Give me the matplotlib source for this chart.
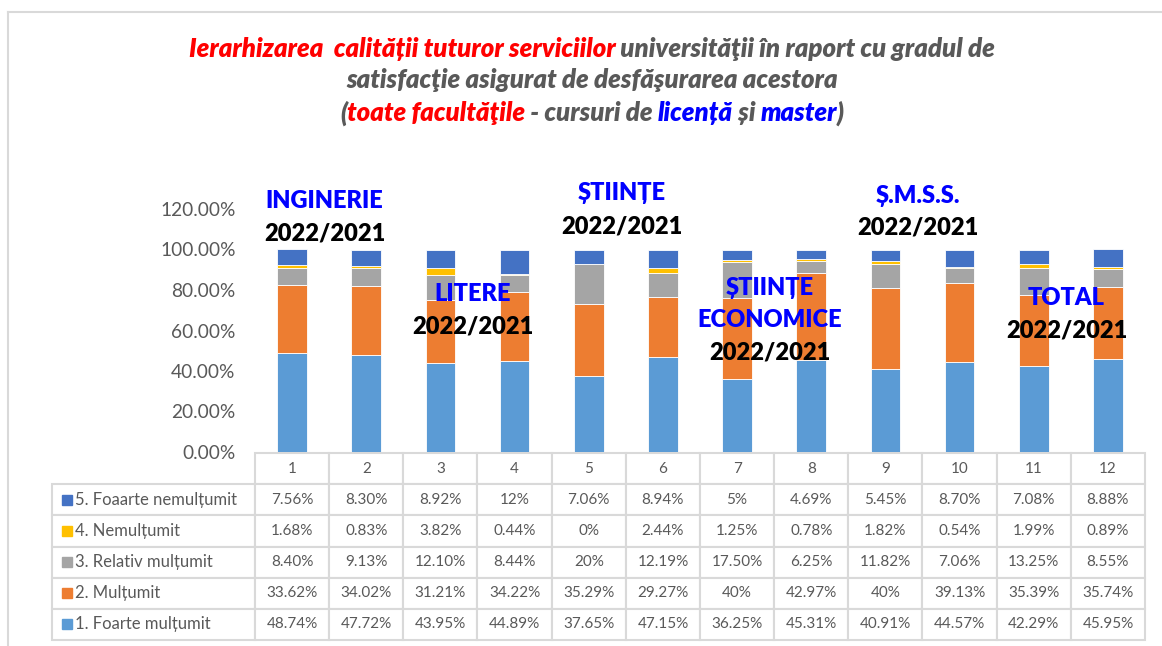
import matplotlib
matplotlib.use('Agg')
import matplotlib.pyplot as plt
from matplotlib.patches import Rectangle
from matplotlib.lines import Line2D

plt.rcParams['font.family'] = ['Lato', 'DejaVu Sans']

# data (percent)
groups = [str(i) for i in range(1, 13)]
foarte_nemultumit = [7.56, 8.30, 8.92, 12, 7.06, 8.94, 5, 4.69, 5.45, 8.70, 7.08, 8.88]
nemultumit = [1.68, 0.83, 3.82, 0.44, 0, 2.44, 1.25, 0.78, 1.82, 0.54, 1.99, 0.89]
relativ_multumit = [8.40, 9.13, 12.10, 8.44, 20, 12.19, 17.50, 6.25, 11.82, 7.06, 13.25, 8.55]
multumit = [33.62, 34.02, 31.21, 34.22, 35.29, 29.27, 40, 42.97, 40, 39.13, 35.39, 35.74]
foarte_multumit = [48.74, 47.72, 43.95, 44.89, 37.65, 47.15, 36.25, 45.31, 40.91, 44.57, 42.29, 45.95]

series_labels = ['5. Foaarte nemulțumit', '4. Nemulțumit', '3. Relativ mulțumit',
                 '2. Mulțumit', '1. Foarte mulțumit']
series_values = [foarte_nemultumit, nemultumit, relativ_multumit, multumit, foarte_multumit]
series_colors = ['#4472C4', '#FFC000', '#A5A5A5', '#ED7D31', '#5B9BD5']

# faculty labels: (x between bars, [(text, colour, y)])
faculty_labels = [
    (0.5, [('INGINERIE', 'blue', 1.241), ('2022/2021', 'black', 1.079)]),
    (2.5, [('LITERE', 'blue', 0.778), ('2022/2021', 'black', 0.621)]),
    (4.5, [('ȘTIINȚE', 'blue', 1.281), ('2022/2021', 'black', 1.113)]),
    (6.5, [('ȘTIINȚE', 'blue', 0.808), ('ECONOMICE', 'blue', 0.650), ('2022/2021', 'black', 0.493)]),
    (8.5, [('Ș.M.S.S.', 'blue', 1.266), ('2022/2021', 'black', 1.108)]),
    (10.5, [('TOTAL', 'blue', 0.759), ('2022/2021', 'black', 0.601)]),
]

GRAY = '#595959'
RED = '#FF0000'
BLUE = '#0000FF'

W, H = 1162, 646
fig = plt.figure(figsize=(W / 100, H / 100), dpi=100)
ax = fig.add_axes([255 / W, (H - 452) / H, 890 / W, 243 / H])

x = list(range(len(groups)))
bottom = [0] * len(groups)
for vals, color in zip(reversed(series_values), reversed(series_colors)):
    frac = [v / 100 for v in vals]
    ax.bar(x, frac, 0.4, bottom=bottom, color=color, edgecolor='white', linewidth=0.6)
    bottom = [b + f for b, f in zip(bottom, frac)]

ax.set_xlim(-0.5, len(groups) - 0.5)
ax.set_ylim(0, 1.2)
ax.set_yticks([0, 0.2, 0.4, 0.6, 0.8, 1.0, 1.2])
ax.set_yticklabels(['{:.2f}%'.format(t * 100) for t in ax.get_yticks()])
ax.tick_params(axis='y', length=0, pad=14, labelsize=13.8, labelcolor=GRAY)
ax.set_xticks([])
for s in ax.spines.values():
    s.set_visible(False)

for xc, lines in faculty_labels:
    for txt, col, yv in lines:
        ax.text(xc - 0.06, yv, txt, color=col, fontsize=17, fontweight='heavy',
                ha='center', va='center', clip_on=False)


# table
def fmt(v):
    return '{:d}%'.format(int(v)) if float(v).is_integer() else '{:.2f}%'.format(v)


cell_text = [[lab] + [fmt(v) for v in vals] for lab, vals in zip(series_labels, series_values)]
col_labels = [''] + groups
bx0 = (52 - 255) / 890
bw = (1145 - 52) / 890
btop = -1 / 243
bbot = -(640 - 452) / 243
tbl = ax.table(cellText=cell_text, colLabels=col_labels, cellLoc='center',
               colWidths=[203] + [74.17] * len(groups),
               bbox=[bx0, bbot, bw, btop - bbot])
tbl.auto_set_font_size(False)
tbl.set_fontsize(11)
for (r, c), cell in tbl.get_celld().items():
    cell.set_edgecolor('#D9D9D9')
    cell.set_linewidth(1.5)
    cell.get_text().set_color(GRAY)
    if r == 0 and c == 0:
        cell.visible_edges = ''
    if c == 0 and r > 0:
        cell._loc = 'left'
        cell.PAD = 0.115
        cell.get_text().set_ha('left')
        cell.get_text().set_fontsize(12)

nrows = len(series_labels) + 1
row_h = (btop - bbot) / nrows
for i, col in enumerate(series_colors):
    yc = btop - row_h * (1.5 + i)
    ax.add_patch(Rectangle(((62 - 255) / 890, yc - 5 / 243), 10 / 890, 10 / 243,
                           transform=ax.transAxes, color=col, clip_on=False))

# title with coloured parts
title_lines = [
    (49, [('Ierarhizarea  calității tuturor serviciilor', RED),
          (' universităţii în raport cu gradul de', GRAY)]),
    (80, [('satisfacţie asigurat de desfăşurarea acestora', GRAY)]),
    (113, [('(', GRAY), ('toate facultăţile', RED), (' - cursuri de ', GRAY),
           ('licență', BLUE), (' și ', GRAY), ('master', BLUE), (')', GRAY)]),
]
renderer = fig.canvas.get_renderer()
title_size = 18.5
title_weight = 'heavy'


def text_width(s):
    t = fig.text(0, 0, s + 'I', fontsize=title_size, fontweight=title_weight, fontstyle='italic')
    ref = fig.text(0, 0, 'I', fontsize=title_size, fontweight=title_weight, fontstyle='italic')
    w = t.get_window_extent(renderer).width - ref.get_window_extent(renderer).width
    t.remove()
    ref.remove()
    return w


for ypix, parts in title_lines:
    full = ''.join(p for p, _ in parts)
    x0 = 592 - text_width(full) / 2
    prefix = ''
    for s, col in parts:
        xs = x0 + text_width(prefix) if prefix else x0
        fig.text(xs / W, 1 - ypix / H, s, color=col, fontsize=title_size,
                 fontweight=title_weight, fontstyle='italic', va='center', ha='left')
        prefix += s

# outer border (top and left visible)
fig.add_artist(Line2D([8 / W, 1], [1 - 12 / H, 1 - 12 / H], color='#D9D9D9', lw=1.5))
fig.add_artist(Line2D([8 / W, 8 / W], [0, 1 - 12 / H], color='#D9D9D9', lw=1.5))

fig.savefig('out.png', dpi=100)
